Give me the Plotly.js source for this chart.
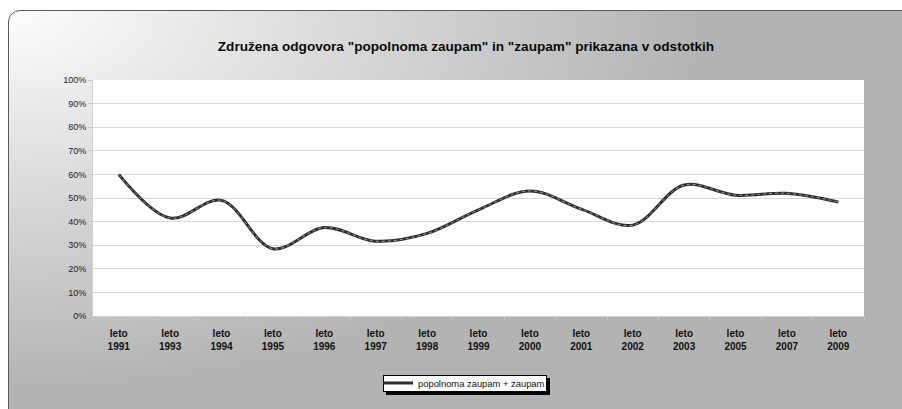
<!DOCTYPE html>
<html>
<head>
<meta charset="utf-8">
<script src="https://cdn.plot.ly/plotly-3.0.1.min.js"></script>
<style>
  html, body { margin: 0; padding: 0; width: 902px; height: 409px; overflow: hidden; background: #ffffff; }
  #frame {
    position: absolute; left: 8px; top: 10px; width: 910px; height: 420px;
    border: 1.5px solid #5a5a5a; border-radius: 12px; box-sizing: border-box;
    background: radial-gradient(ellipse 700px 380px at 0 0, #fdfdfd 0%, #b3b3b3 100%);
  }
  #legbox {
    position: absolute; left: 383px; top: 375px; width: 164px; height: 17px;
    background: #ffffff; border: 1px solid #000; box-sizing: border-box;
    box-shadow: 3px 3px 0 #000;
  }
  #chart { position: absolute; left: 0; top: 0; width: 902px; height: 409px; }
</style>
</head>
<body>
<div id="frame"></div>
<div id="legbox"></div>
<div id="chart"></div>
<script>
const categories = ["leto<br>1991","leto<br>1993","leto<br>1994","leto<br>1995","leto<br>1996","leto<br>1997","leto<br>1998","leto<br>1999","leto<br>2000","leto<br>2001","leto<br>2002","leto<br>2003","leto<br>2005","leto<br>2007","leto<br>2009"];
const zaupam = [0.60, 0.415, 0.49, 0.285, 0.375, 0.317, 0.35, 0.45, 0.53, 0.453, 0.385, 0.555, 0.512, 0.52, 0.483];
const seriesName = "popolnoma zaupam + zaupam";
const titleText = "Združena odgovora \"popolnoma zaupam\" in \"zaupam\" prikazana v odstotkih";

const traces = [
  {
    x: categories, y: zaupam, type: "scatter", mode: "lines", name: seriesName,
    line: { color: "#2e2e2e", width: 3, shape: "spline", smoothing: 1 },
    hoverinfo: "skip"
  },
  {
    x: categories, y: zaupam, type: "scatter", mode: "lines", showlegend: false,
    line: { color: "#9a9a9a", width: 1, dash: "dot", shape: "spline", smoothing: 1 },
    hoverinfo: "skip"
  }
];

const layout = {
  width: 902, height: 409,
  margin: { l: 93, r: 38, t: 80, b: 93 },
  paper_bgcolor: "rgba(0,0,0,0)",
  plot_bgcolor: "#ffffff",
  font: { family: "Liberation Sans, Arial, sans-serif", color: "#1a1a1a" },
  title: {
    text: "<b>" + titleText + "</b>",
    font: { family: "Liberation Sans, Arial, sans-serif", size: 13.6, color: "#0a0a0a" },
    x: 0.5166, xanchor: "center", xref: "container",
    y: 1 - 46 / 409, yanchor: "middle", yref: "container"
  },
  xaxis: {
    type: "category", range: [-0.5, 14.5], fixedrange: true,
    showgrid: false, showline: true, linecolor: "#d0d0d0", linewidth: 1,
    ticks: "outside", ticklen: 4, tickcolor: "#c8c8c8", tickson: "boundaries",
    tickfont: { family: "Liberation Sans, Arial, sans-serif", size: 10, color: "#111", weight: "bold" },
    ticklabelstandoff: 8, zeroline: false
  },
  yaxis: {
    range: [0, 1], dtick: 0.1, tick0: 0, tickformat: ".0%", fixedrange: true,
    showgrid: true, gridcolor: "#d9d9d9", gridwidth: 1,
    showline: true, linecolor: "#d0d0d0", linewidth: 1,
    ticks: "outside", ticklen: 4, tickcolor: "#c8c8c8",
    tickfont: { family: "Liberation Sans, Arial, sans-serif", size: 9, color: "#222" },
    zeroline: false
  },
  showlegend: true,
  legend: {
    orientation: "h", xref: "container", yref: "container",
    x: 464 / 902, xanchor: "center", y: 1 - 383 / 409, yanchor: "middle",
    bgcolor: "rgba(0,0,0,0)", borderwidth: 0,
    font: { family: "Liberation Sans, Arial, sans-serif", size: 9.4, color: "#111" },
    itemwidth: 30, tracegroupgap: 0
  }
};

Plotly.newPlot("chart", traces, layout, { staticPlot: true, displayModeBar: false });
</script>
</body>
</html>
